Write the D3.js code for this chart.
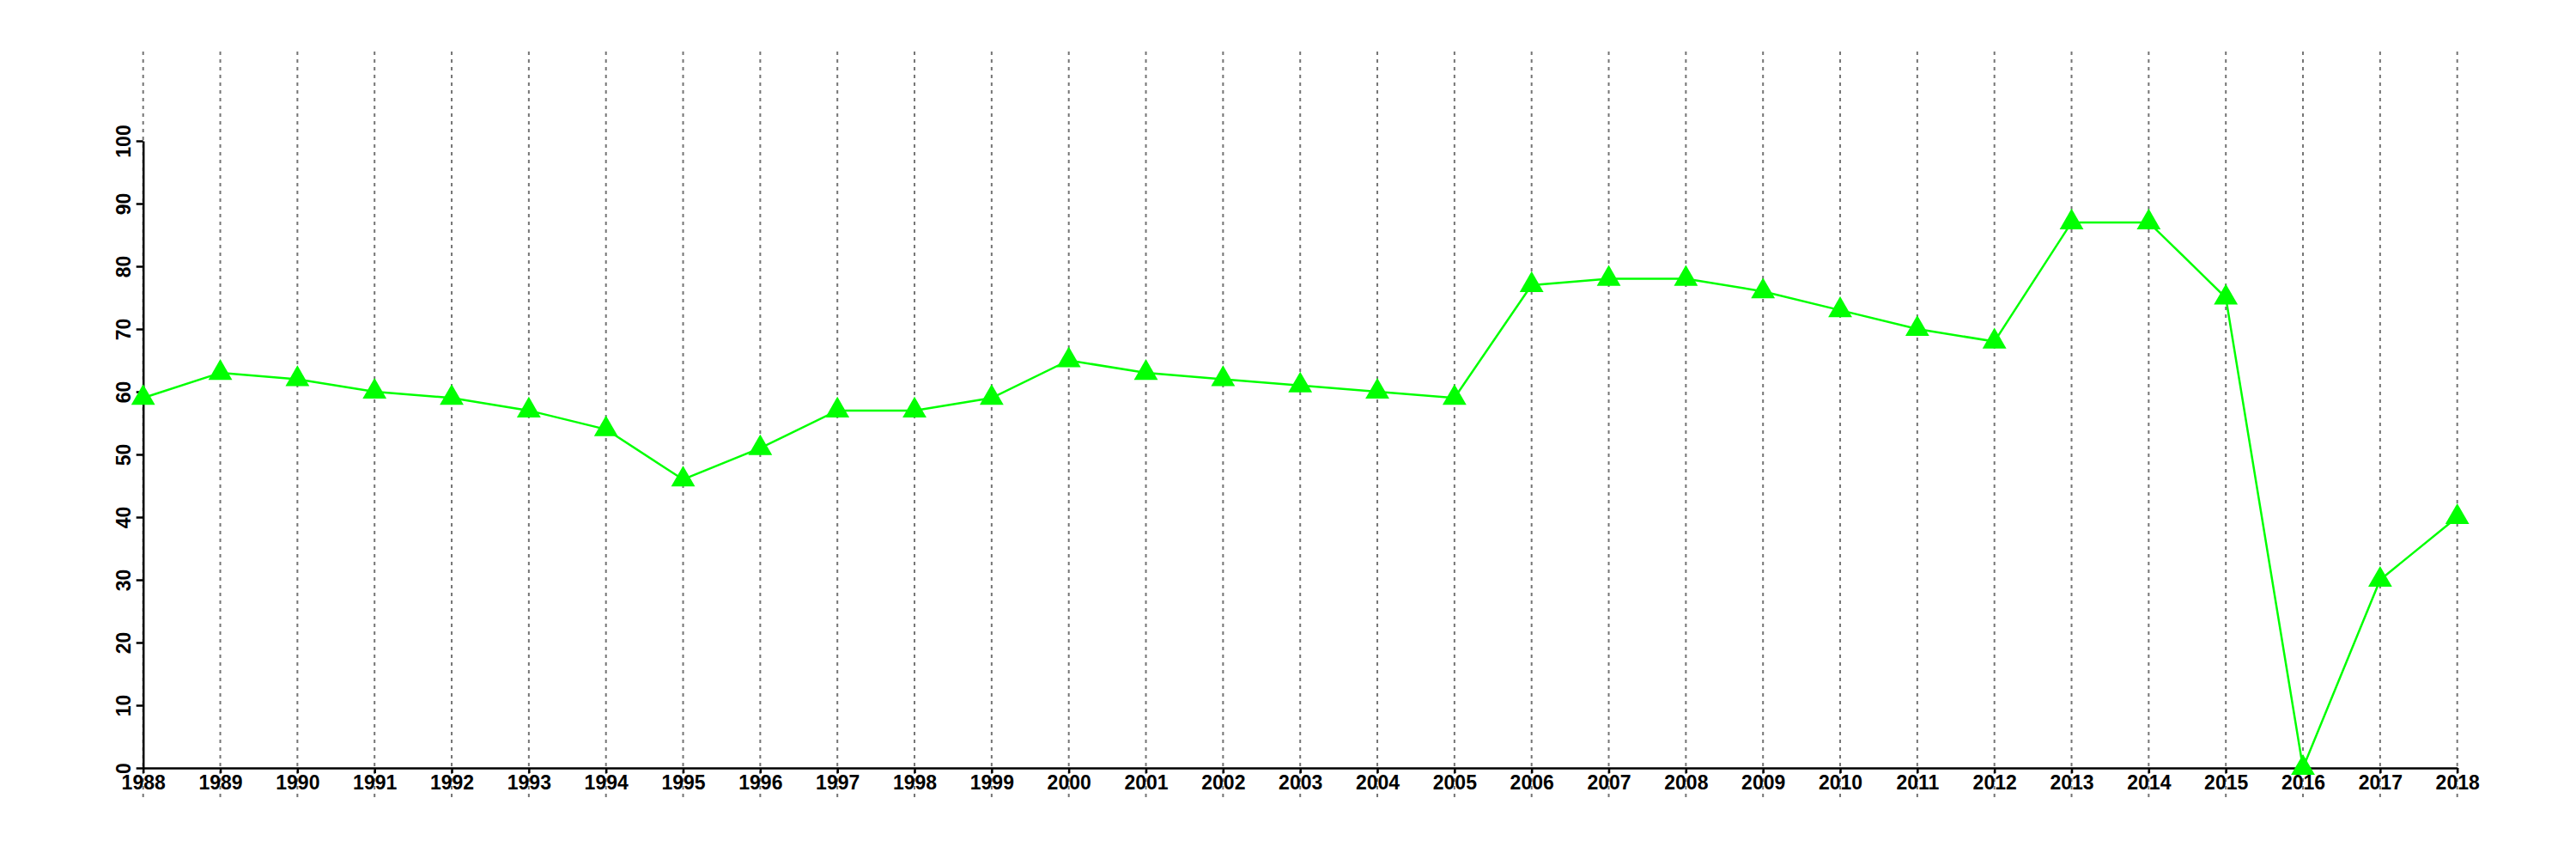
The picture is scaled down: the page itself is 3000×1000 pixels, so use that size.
<!DOCTYPE html>
<html><head><meta charset="utf-8">
<script src="https://cdn.jsdelivr.net/npm/d3@7"></script>
<style>html,body{margin:0;padding:0;background:#fff;}</style>
</head><body>
<svg id="c" width="3000" height="1000"></svg>
<script>
const years = [1988,1989,1990,1991,1992,1993,1994,1995,1996,1997,1998,1999,2000,2001,2002,2003,2004,2005,2006,2007,2008,2009,2010,2011,2012,2013,2014,2015,2016,2017,2018];
const values = [59,63,62,60,59,57,54,46,51,57,57,59,65,63,62,61,60,59,77,78,78,76,73,70,68,87,87,75,0,30,40];
const yTicks = [0,10,20,30,40,50,60,70,80,90,100];

const svg = d3.select("#c");
const x = d3.scaleLinear().domain([1988,2018]).range([166.7,2861.7]);
const y = d3.scaleLinear().domain([0,100]).range([894,164]);
const font = "'Liberation Sans', Arial, sans-serif";

// grid lines
svg.append("g").selectAll("line").data(years).join("line")
  .attr("x1", d=>x(d)).attr("x2", d=>x(d))
  .attr("y1", 60).attr("y2", 928)
  .attr("stroke", "#757575").attr("stroke-width", 2)
  .attr("stroke-dasharray", "4,5");

// x axis
const gx = svg.append("g").attr("transform", "translate(0,894)")
  .call(d3.axisBottom(x).tickValues(years).tickFormat(d3.format("d")).tickSize(6).tickSizeOuter(0));
gx.select(".domain").attr("stroke", "#000").attr("stroke-width", 2.5);
gx.selectAll(".tick line").attr("stroke", "#000").attr("stroke-width", 2.5);
gx.selectAll(".tick text").attr("font-family", font).attr("font-weight", "bold")
  .attr("font-size", 23).attr("fill", "#000").attr("y", 9).attr("dy", "0.71em");

// y axis
const gy = svg.append("g").attr("transform", "translate(166.7,0)")
  .call(d3.axisLeft(y).tickValues(yTicks).tickSize(8).tickSizeOuter(0));
gy.select(".domain").attr("stroke", "#000").attr("stroke-width", 2.5);
gy.selectAll(".tick line").attr("stroke", "#000").attr("stroke-width", 2.5);
gy.selectAll(".tick text").attr("font-family", font).attr("font-weight", "bold")
  .attr("font-size", 23).attr("fill", "#000")
  .attr("x", null).attr("dy", null).attr("text-anchor", "middle")
  .attr("transform", "translate(-15,0) rotate(-90)");

// line
const pts = years.map((d,i)=>[d, values[i]]);
svg.append("path").datum(pts)
  .attr("fill", "none").attr("stroke", "#00ff00").attr("stroke-width", 2.5)
  .attr("d", d3.line().x(d=>x(d[0])).y(d=>y(d[1])));

// markers
svg.append("g").selectAll("path").data(pts).join("path")
  .attr("transform", d=>`translate(${x(d[0])},${y(d[1])})`)
  .attr("d", d3.symbol().type(d3.symbolTriangle).size(335))
  .attr("fill", "#00ff00");
</script>
</body></html>
